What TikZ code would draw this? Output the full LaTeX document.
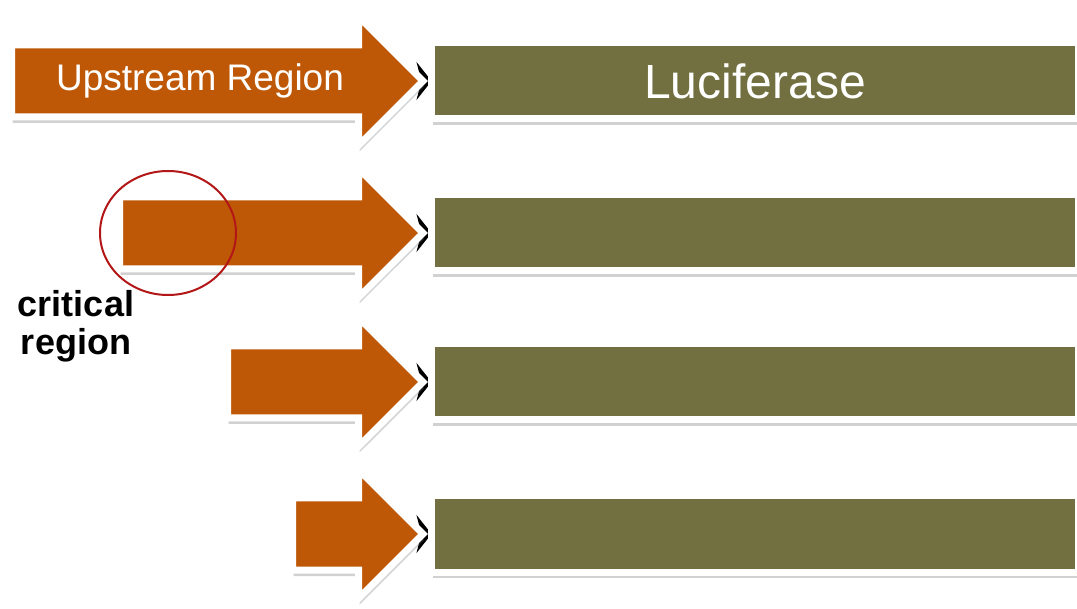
\documentclass[tikz,border=0pt]{standalone}
\usepackage{fontspec}
\setmainfont{Liberation Sans}
\usetikzlibrary{arrows.meta, shapes.arrows, shapes.geometric, shadows, positioning}
\definecolor{colorRegion}{RGB}{190,88,6}
\definecolor{colorGene}{RGB}{114,112,64}
\definecolor{colorMark}{RGB}{178,22,22}
\pgfdeclarelayer{background}
\pgfsetlayers{background,main}
\tikzset{
  region/.style={single arrow, single arrow head extend=28.5pt, single arrow tip angle=90,
    inner xsep=0pt, inner ysep=32.5pt, outer sep=0pt, anchor=tip,
    fill=colorRegion, draw=white, line width=7pt,
    drop shadow={shadow xshift=1pt, shadow yshift=-6pt, opacity=0.3, fill=black!60}},
  gene/.style={rectangle, minimum width=647pt, minimum height=76pt, inner sep=0pt, outer sep=0pt,
    fill=colorGene, draw=white, line width=7pt, text=white,
    font=\fontsize{48}{52}\selectfont,
    drop shadow={shadow xshift=1pt, shadow yshift=-6pt, opacity=0.3, fill=black!60}},
  link/.style={-{Stealth[length=15pt, width=38pt]}, line width=2pt, black}
}

\begin{document}
\begin{tikzpicture}[x=1pt, y=-1pt]
\useasboundingbox (0,0) rectangle (1077,609);
% promoter pieces, shortest at the bottom
\node[region, minimum height=411.5pt] (up) at (423,81) {};
\node[region, minimum height=303.5pt] (rA) at (423,233) {};
\node[region, minimum height=195.5pt] (rB) at (423,382) {};
\node[region, minimum height=130.5pt] (rC) at (423,534) {};
\node[text=white, font=\fontsize{37}{40}\selectfont] (upl) at (200,81) {Upstream Region};
% reporter genes
\node[gene, right=8.5pt of up.tip] (luc) {Luciferase};
\node[gene, right=8.5pt of rA.tip] (gA) {};
\node[gene, right=8.5pt of rB.tip] (gB) {};
\node[gene, right=8.5pt of rC.tip] (gC) {};
\begin{pgfonlayer}{background}
\draw[link] (up.tip) -- (luc.west);
\draw[link] (rA.tip) -- (gA.west);
\draw[link] (rB.tip) -- (gB.west);
\draw[link] (rC.tip) -- (gC.west);
\end{pgfonlayer}
% marked part
\node[ellipse, draw=colorMark, line width=2pt, minimum width=136pt, minimum height=124pt] (crit) at (168,233) {};
\node[align=center, font=\bfseries\fontsize{36}{38}\selectfont] (critl) at (76,326) {critical\\region};
\end{tikzpicture}
\end{document}
